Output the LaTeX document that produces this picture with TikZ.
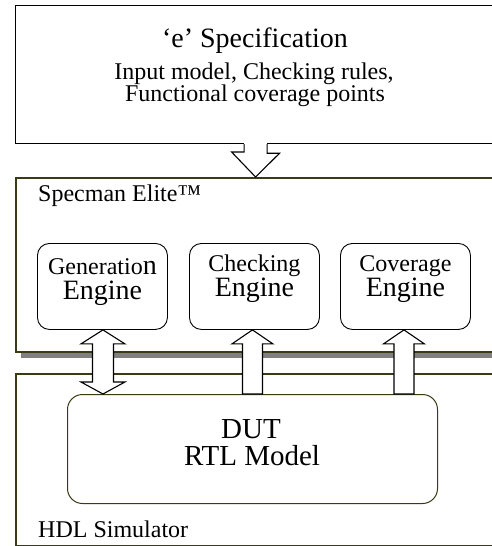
\documentclass[tikz,border=0pt]{standalone}
\usepackage{fontspec}
\setmainfont{Liberation Serif}
\usetikzlibrary{calc,shadows}
\definecolor{olivedark}{HTML}{3A3A14}

\begin{document}
\begin{tikzpicture}[
        x=1pt,
        y=-1pt,
        panel/.style={draw=olivedark, line width=1.5pt, fill=white, anchor=north west, inner sep=0pt, minimum width=480pt},
        engine/.style={draw, rounded corners=12pt, line width=0.9pt, anchor=north west, inner sep=0pt, minimum width=130pt, minimum height=86pt},
        hollow/.style={draw, fill=white, line width=1.1pt, line join=miter},
        txt/.style={inner sep=0pt, anchor=base},
        big/.style={txt, font=\fontsize{28}{30}\selectfont},
        mid/.style={txt, font=\fontsize{24}{26}\selectfont}
    ]
        \useasboundingbox (0,0) rectangle (492,546);
        \clip (0,0) rectangle (492,546);

        % e specification
        \node[draw, line width=1.2pt, anchor=north west, inner sep=0pt, minimum width=480pt, minimum height=138pt] (spec) at (15,5) {};
        \node[big] (spectitle) at (255,47) {‘e’ Specification};
        \node[mid] (specline1) at (254,79) {Input model, Checking rules,};
        \node[mid] (specline2) at (255,101) {Functional coverage points};

        % Specman and simulator panels
        \node[panel, minimum height=174pt, drop shadow={shadow xshift=5pt, shadow yshift=-6.5pt, fill=gray, opacity=1}] (elite) at (15,177) {};
        \node[mid, anchor=base west] (elitename) at (38,201) {Specman Elite™};
        \node[panel, minimum height=172pt] (hdl) at (15,373) {};
        \node[mid, anchor=base west] (hdlname) at (38,537) {HDL Simulator};

        \foreach \name/\xl/\dy/\word in {gen/37/3/{Generatio{\fontsize{28}{28}\selectfont n}}, chk/189/0/Checking, cov/340/0/Coverage}{
            \node[engine] (\name) at (\xl,243) {};
            \node[mid] (\name-top) at ($(\name.north)+(0,28+\dy)$) {\word};
            \node[big] (\name-bot) at ($(\name.north)+(0,53+\dy)$) {Engine};
        }

        \node[draw=olivedark, line width=1pt, rounded corners=15pt, anchor=north west, inner sep=0pt, minimum width=370pt, minimum height=109pt] (dut) at (67,394) {};
        \node[txt, font=\fontsize{29}{31}\selectfont] (dutname) at (251,438) {DUT};
        \node[txt, font=\fontsize{29}{31}\selectfont] (dutmodel) at (252,465) {RTL Model};

        % block arrows
        \fill[white] ($(spec.south)+(-11.5,-1)$) rectangle ($(spec.south)+(11.5,9)$);
        \draw[hollow] ($(spec.south)+(11.5,0)$) -- ++(0,9) -- ++(12.5,0) -- (spec.south |- elite.north)
            -- ++(-24,-25) -- ++(12.5,0) -- ($(spec.south)+(-11.5,0)$);

        \coordinate (gtop) at ($(gen.south)+(0.5,0)$);
        \coordinate (gbot) at (gtop |- dut.north);
        \draw[hollow] (gtop) -- ++(22,14) -- ++(-11.5,0) -- ($(gbot)+(10.5,-12)$) -- ++(11.5,0) -- (gbot)
            -- ++(-22,-12) -- ++(11.5,0) -- ($(gtop)+(-10.5,14)$) -- ++(-11.5,0) -- cycle;

        \foreach \name/\dx in {chk/-2, cov/-1.5}{
            \coordinate (\name-tip) at ($(\name.south)+(\dx,0)$);
            \draw[hollow] (\name-tip) -- ++(20.5,14) -- ++(-10.5,0) -- ($(\name-tip |- dut.north)+(10,0)$)
                -- ++(-20,0) -- ($(\name-tip)+(-10,14)$) -- ++(-10.5,0) -- cycle;
        }
    \end{tikzpicture}
\end{document}
